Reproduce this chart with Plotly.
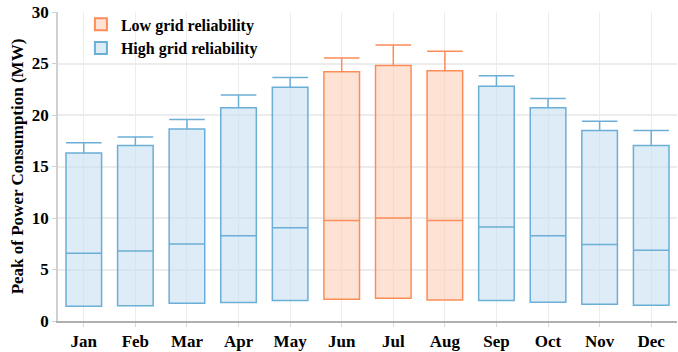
import plotly.graph_objects as go

months = ["Jan", "Feb", "Mar", "Apr", "May", "Jun", "Jul", "Aug", "Sep", "Oct", "Nov", "Dec"]
q1 = [1.42, 1.48, 1.73, 1.79, 1.98, 2.10, 2.20, 2.05, 1.98, 1.82, 1.63, 1.54]
median = [6.57, 6.79, 7.48, 8.27, 9.06, 9.75, 10.0, 9.75, 9.12, 8.27, 7.42, 6.86]
q3 = [16.3, 17.05, 18.65, 20.7, 22.7, 24.2, 24.8, 24.3, 22.8, 20.7, 18.5, 17.05]
upper = [17.3, 17.86, 19.56, 21.95, 23.65, 25.54, 26.8, 26.2, 23.8, 21.6, 19.4, 18.5]
low_reliability = ["Jun", "Jul", "Aug"]

groups = [
    ("Low grid reliability", True, "#fc8d59", "rgba(253,208,184,0.6)"),
    ("High grid reliability", False, "#6baed6", "rgba(198,224,240,0.6)"),
]

fig = go.Figure()
for name, is_low, line_c, fill_c in groups:
    idx = [i for i, m in enumerate(months) if (m in low_reliability) == is_low]
    fig.add_trace(go.Box(
        name=name,
        x=[months[i] for i in idx],
        q1=[q1[i] for i in idx],
        median=[median[i] for i in idx],
        q3=[q3[i] for i in idx],
        lowerfence=[q1[i] for i in idx],
        upperfence=[upper[i] for i in idx],
        line=dict(color=line_c, width=1.5),
        fillcolor=fill_c,
        width=0.69,
        whiskerwidth=1,
        boxpoints=False,
    ))

font_family = "Liberation Serif, Times New Roman, serif"
fig.update_layout(
    width=678, height=352,
    margin=dict(l=58, r=1, t=12, b=22),
    paper_bgcolor="white", plot_bgcolor="white",
    boxmode="overlay",
    font=dict(family=font_family, size=17, color="black"),
    legend=dict(
        x=0.037, y=1.015, xanchor="left", yanchor="top",
        bgcolor="rgba(0,0,0,0)",
        font=dict(family=font_family, size=16, color="black", weight="bold"),
        traceorder="normal", itemsizing="constant",
        tracegroupgap=0, itemwidth=30,
    ),
    showlegend=True,
)
fig.update_xaxes(
    categoryorder="array", categoryarray=months,
    range=[-0.5, 11.5],
    showgrid=True, gridcolor="#ececec", gridwidth=1,
    showline=True, linecolor="#b0b0b0", linewidth=1.5,
    ticks="outside", ticklen=4, tickcolor="#d8d8d8",
    tickfont=dict(family=font_family, size=17, color="black", weight="bold"),
)
fig.update_yaxes(
    range=[0, 30], dtick=5,
    showgrid=True, gridcolor="#ececec", gridwidth=1.5,
    showline=True, linecolor="#d0d0d0", linewidth=1.5,
    ticks="outside", ticklen=4, tickcolor="#d0d0d0",
    zeroline=False,
    tickfont=dict(family=font_family, size=17, color="black", weight="bold"),
    title=dict(text="Peak of Power Consumption (MW)", standoff=4,
               font=dict(family=font_family, size=17, color="black", weight="bold")),
)

fig.write_html("out.html")
